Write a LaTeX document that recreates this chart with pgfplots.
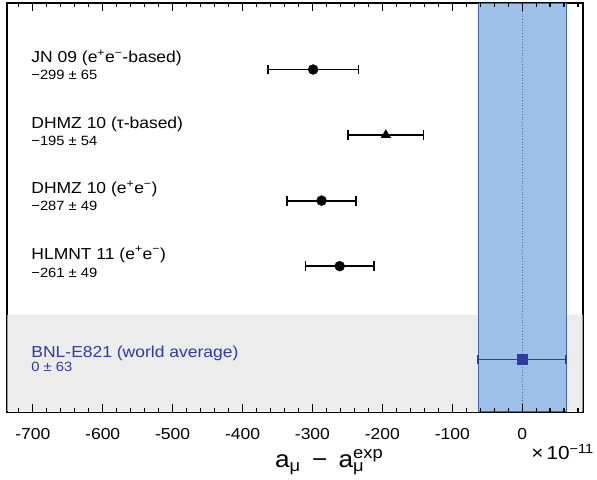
\documentclass[border=0pt]{standalone}
\usepackage{pgfplots}
\pgfplotsset{compat=1.18}
\usepackage{fontspec}
\setmainfont[FakeStretch=1.1]{Liberation Sans}

\definecolor{bandblue}{RGB}{156,192,232}
\definecolor{bandedge}{RGB}{70,100,175}
\definecolor{bnlblue}{RGB}{45,60,160}
\definecolor{bandgray}{RGB}{236,236,236}

\newcommand{\lab}{\fontsize{16}{18}\selectfont}
\newcommand{\val}{\fontsize{13.5}{15}\selectfont}

\pgfplotsset{
  tickbar/.style={only marks, mark size=0pt, forget plot,
    error bars/.cd, y dir=#1, y explicit, error mark=none,
    error bar style={line width=1.3pt, black, solid}},
}

\begin{document}
\begin{tikzpicture}
\begin{axis}[
    width=580pt, height=412pt, scale only axis,
    xmin=-737, xmax=87, ymin=0, ymax=412,
    xtick={-700,-600,-500,-400,-300,-200,-100,0},
    xticklabels={-700,-600,-500,-400,-300,-200,-100,0},
    ytick=\empty,
    tick align=inside,
    major tick length=8pt,
    tick style={line width=1pt, black},
    xticklabel style={font=\fontsize{16}{18}\selectfont, yshift=-13pt},
    axis line style={line width=1.2pt},
    clip=false,
]
% grey band behind the world average
\addplot[fill=bandgray, draw=none] coordinates {(-736.5,0.7) (86.5,0.7) (86.5,98) (-736.5,98) (-736.5,0.7)};
% experimental band
\addplot[fill=bandblue, draw=bandedge, line width=0.6pt] coordinates {(-63,0.7) (63,0.7) (63,411.3) (-63,411.3) (-63,0.7)};
\addplot[dotted, bandedge, line width=0.8pt] coordinates {(0,0) (0,412)};

% tick marks drawn above the bands (major 8, minor 4)
\addplot[tickbar=plus] coordinates {
  (-700,0) +- (0,8) (-600,0) +- (0,8) (-500,0) +- (0,8) (-400,0) +- (0,8)
  (-300,0) +- (0,8) (-200,0) +- (0,8) (-100,0) +- (0,8) (0,0) +- (0,8)
  (-720,0) +- (0,4) (-680,0) +- (0,4) (-660,0) +- (0,4) (-640,0) +- (0,4) (-620,0) +- (0,4)
  (-580,0) +- (0,4) (-560,0) +- (0,4) (-540,0) +- (0,4) (-520,0) +- (0,4)
  (-480,0) +- (0,4) (-460,0) +- (0,4) (-440,0) +- (0,4) (-420,0) +- (0,4)
  (-380,0) +- (0,4) (-360,0) +- (0,4) (-340,0) +- (0,4) (-320,0) +- (0,4)
  (-280,0) +- (0,4) (-260,0) +- (0,4) (-240,0) +- (0,4) (-220,0) +- (0,4)
  (-180,0) +- (0,4) (-160,0) +- (0,4) (-140,0) +- (0,4) (-120,0) +- (0,4)
  (-80,0) +- (0,4) (-60,0) +- (0,4) (-40,0) +- (0,4) (-20,0) +- (0,4)
  (20,0) +- (0,4) (40,0) +- (0,4) (60,0) +- (0,4) (80,0) +- (0,4)
};
\addplot[tickbar=minus] coordinates {
  (-700,412) +- (0,8) (-600,412) +- (0,8) (-500,412) +- (0,8) (-400,412) +- (0,8)
  (-300,412) +- (0,8) (-200,412) +- (0,8) (-100,412) +- (0,8) (0,412) +- (0,8)
  (-720,412) +- (0,4) (-680,412) +- (0,4) (-660,412) +- (0,4) (-640,412) +- (0,4) (-620,412) +- (0,4)
  (-580,412) +- (0,4) (-560,412) +- (0,4) (-540,412) +- (0,4) (-520,412) +- (0,4)
  (-480,412) +- (0,4) (-460,412) +- (0,4) (-440,412) +- (0,4) (-420,412) +- (0,4)
  (-380,412) +- (0,4) (-360,412) +- (0,4) (-340,412) +- (0,4) (-320,412) +- (0,4)
  (-280,412) +- (0,4) (-260,412) +- (0,4) (-240,412) +- (0,4) (-220,412) +- (0,4)
  (-180,412) +- (0,4) (-160,412) +- (0,4) (-140,412) +- (0,4) (-120,412) +- (0,4)
  (-80,412) +- (0,4) (-60,412) +- (0,4) (-40,412) +- (0,4) (-20,412) +- (0,4)
  (20,412) +- (0,4) (40,412) +- (0,4) (60,412) +- (0,4) (80,412) +- (0,4)
};

% e+e- based
\addplot[only marks, mark=*, mark size=5pt, black,
    error bars/.cd, x dir=both, x explicit, error mark=|,
    error bar style={line width=1.8pt, black},
    error mark options={line width=1.8pt, mark size=5pt, black}]
    coordinates {(-299,345) +- (65,0) (-287,213) +- (49,0) (-261,147) +- (49,0)};
% tau based
\addplot[only marks, mark=triangle*, mark size=5.5pt, black,
    error bars/.cd, x dir=both, x explicit, error mark=|,
    error bar style={line width=1.8pt, black},
    error mark options={line width=1.8pt, mark size=5pt, black}]
    coordinates {(-195,279) +- (54,0)};
% BNL
\addplot[only marks, mark=square*, mark size=5pt, bnlblue,
    error bars/.cd, x dir=both, x explicit, error mark=|,
    error bar style={line width=1.8pt, bnlblue},
    error mark options={line width=1.8pt, mark size=5pt, bnlblue}]
    coordinates {(0,53) +- (63,0)};

\node[anchor=base west] at (axis cs:-707,352) {\lab JN 09 (e\textsuperscript{+}e\textsuperscript{−}-based)};
\node[anchor=base west] at (axis cs:-707,335) {\val −299 ± 65};
\node[anchor=base west] at (axis cs:-707,286) {\lab DHMZ 10 (τ-based)};
\node[anchor=base west] at (axis cs:-707,269) {\val −195 ± 54};
\node[anchor=base west] at (axis cs:-707,220) {\lab DHMZ 10 (e\textsuperscript{+}e\textsuperscript{−})};
\node[anchor=base west] at (axis cs:-707,203) {\val −287 ± 49};
\node[anchor=base west] at (axis cs:-707,154) {\lab HLMNT 11 (e\textsuperscript{+}e\textsuperscript{−})};
\node[anchor=base west] at (axis cs:-707,136) {\val −261 ± 49};
\node[anchor=base west, text=bnlblue] at (axis cs:-707,55) {\lab BNL-E821 (world average)};
\node[anchor=base west, text=bnlblue] at (axis cs:-707,41) {\val 0 ± 63};

\node[anchor=base] at (axis cs:-276,-56) {\fontsize{24}{26}\selectfont a\textsubscript{μ} \,−\, a\rlap{\textsubscript{μ}}\textsuperscript{exp}};
\node[anchor=base west] at (axis cs:8,-48) {\fontsize{19}{21}\selectfont ×\,10\textsuperscript{−11}};
\end{axis}
\path (current axis.south west) ++(-7pt,-68pt) coordinate (bl);
\path (current axis.north east) ++(10pt,3pt) coordinate (tr);
\path (bl) rectangle (tr);
\end{tikzpicture}
\end{document}
